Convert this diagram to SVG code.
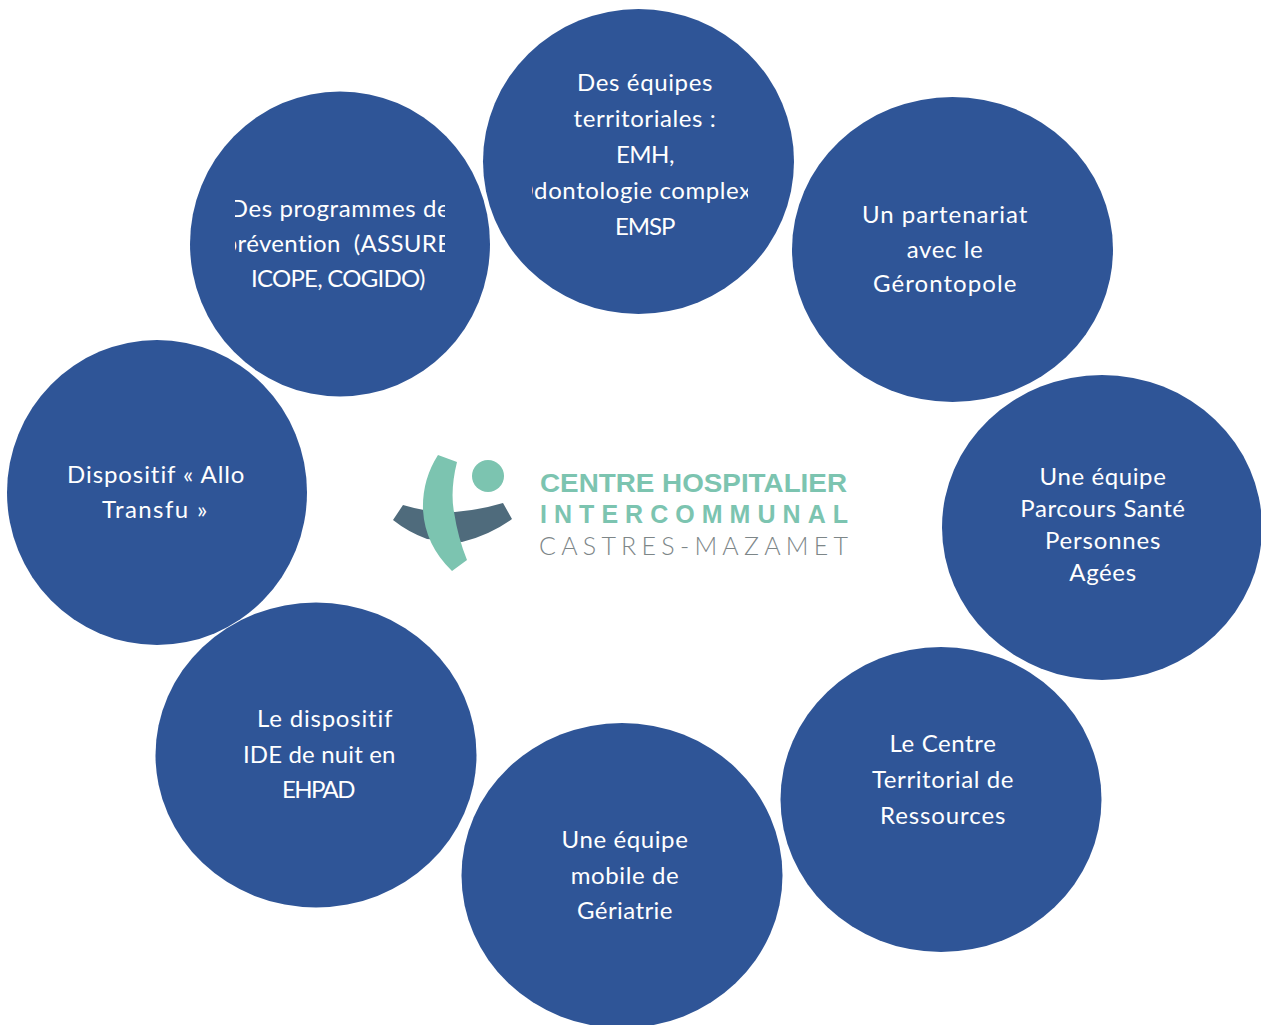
<svg xmlns="http://www.w3.org/2000/svg" width="1261" height="1025" viewBox="0 0 1261 1025">
<style>
.c{fill:#2f5597}
.t{font-family:Lato,"Open Sans",sans-serif;font-size:24px;fill:#fff;text-anchor:middle;letter-spacing:.6px}
.l{font-family:"Liberation Sans",Arial,sans-serif;fill:#7cc4b0;font-size:25px;font-weight:700}
</style>
<defs>
<clipPath id="cp1"><rect x="235" y="190" width="210" height="110"/></clipPath>
<clipPath id="cp2"><rect x="532" y="60" width="216" height="190"/></clipPath>
</defs>
<rect width="1261" height="1025" fill="#fff"/>
<g id="connectors"/>
<g id="n-programmes"><ellipse class="c" cx="340" cy="244" rx="150" ry="152.5"/>
<g clip-path="url(#cp1)"><text class="t" x="340" y="217">Des programmes de</text><text class="t" x="340.5" y="252" xml:space="preserve" style="letter-spacing:.35px">prévention  (ASSURE,</text><text class="t" x="338.5" y="287" textLength="175">ICOPE, COGIDO)</text></g></g>
<g id="n-equipes"><ellipse class="c" cx="638.5" cy="161.5" rx="155.5" ry="152.5"/>
<g clip-path="url(#cp2)"><text class="t" x="645" y="91" textLength="136">Des équipes</text><text class="t" x="645" y="127">territoriales :</text><text class="t" x="645.5" y="163" textLength="59">EMH,</text><text class="t" x="639.5" y="199">Odontologie complexe</text><text class="t" x="645.5" y="235" textLength="61">EMSP</text></g></g>
<g id="n-gerontopole"><ellipse class="c" cx="952.5" cy="249.5" rx="160.5" ry="152.5"/>
<text class="t" x="945" y="223" textLength="166">Un partenariat</text><text class="t" x="945" y="258">avec le</text><text class="t" x="945" y="292" textLength="144">Gérontopole</text></g>
<g id="n-parcours"><ellipse class="c" cx="1102" cy="527.5" rx="160" ry="152.5"/>
<text class="t" x="1103" y="485">Une équipe</text><text class="t" x="1103" y="517">Parcours Santé</text><text class="t" x="1103" y="549" textLength="116">Personnes</text><text class="t" x="1103" y="581">Agées</text></g>
<g id="n-ctr"><ellipse class="c" cx="941" cy="799.5" rx="160.5" ry="152.5"/>
<text class="t" x="943" y="752">Le Centre</text><text class="t" x="943" y="788">Territorial de</text><text class="t" x="943" y="824" textLength="126">Ressources</text></g>
<g id="n-geriatrie"><ellipse class="c" cx="622" cy="875.5" rx="160.5" ry="152.5"/>
<text class="t" x="625" y="848">Une équipe</text><text class="t" x="625" y="884">mobile de</text><text class="t" x="625" y="919" textLength="96">Gériatrie</text></g>
<g id="n-ide"><ellipse class="c" cx="316" cy="755" rx="160.5" ry="152.5"/>
<text class="t" x="325" y="727" textLength="136">Le dispositif</text><text class="t" x="319.5" y="763" textLength="153">IDE de nuit en</text><text class="t" x="319" y="798" textLength="74">EHPAD</text></g>
<g id="n-allo"><ellipse class="c" cx="157" cy="492.5" rx="150" ry="152.5"/>
<text class="t" x="156" y="483" textLength="178">Dispositif « Allo</text><text class="t" x="155" y="518" textLength="106">Transfu »</text></g>
<g id="logo">
<path d="M393 520L403 505Q413 508 424 510L455 512Q480 510 503 503L512 519Q490 535 462 542L427 539Q408 532 393 520Z" fill="#4f6b7c"/>
<path d="M438 455L457 462Q450 490 454 512Q458 538 467 560L452 571Q425 545 423 510Q422 480 438 455Z" fill="#7cc4b0"/>
<circle cx="488" cy="476" r="16" fill="#7cc4b0"/>
<text class="l" x="540" y="492" textLength="307" lengthAdjust="spacingAndGlyphs">CENTRE HOSPITALIER</text>
<text class="l" x="540" y="523" textLength="308" lengthAdjust="spacing">INTERCOMMUNAL</text>
<text x="539" y="555" font-family="Lato,'Liberation Sans',sans-serif" font-weight="300" font-size="25" fill="#7d8688" textLength="309" lengthAdjust="spacing">CASTRES-MAZAMET</text>
</g>
</svg>
